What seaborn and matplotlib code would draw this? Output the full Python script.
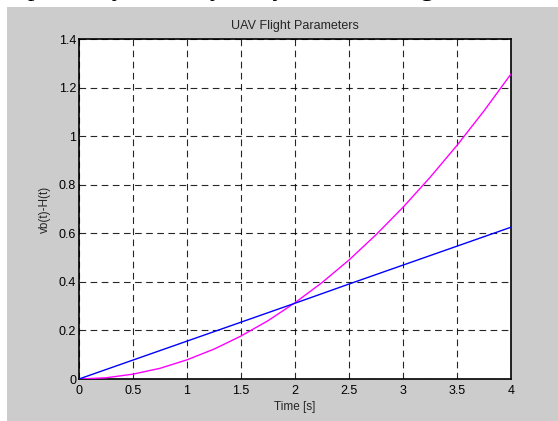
import matplotlib
matplotlib.use("Agg")
import matplotlib.pyplot as plt
import seaborn as sns
import pandas as pd
from matplotlib.patches import Rectangle

# Data
t_quad = [0, 0.25, 0.5, 0.75, 1.0, 1.25, 1.5, 1.75, 2.0, 2.25, 2.5, 2.75, 3.0, 3.25, 3.5, 3.75, 4.0]
h_quad = [0, 0.005, 0.02, 0.044, 0.079, 0.123, 0.177, 0.24, 0.314, 0.397, 0.49, 0.594, 0.707, 0.83, 0.962, 1.104, 1.256]
t_lin = [0, 0.5, 1.0, 1.5, 2.0, 2.5, 3.0, 3.5, 4.0]
v_lin = [0, 0.078, 0.156, 0.234, 0.312, 0.391, 0.469, 0.547, 0.625]
x_ticks = [0, 0.5, 1, 1.5, 2, 2.5, 3, 3.5, 4]
x_ticklabels = ["0", "0.5", "1", "1.5", "2", "2.5", "3", "3.5", "4"]
y_ticks = [0, 0.2, 0.4, 0.6, 0.8, 1.0, 1.2, 1.4]
y_ticklabels = ["0", "0.2", "0.4", "0.6", "0.8", "1", "1.2", "1.4"]

sns.set_style("white")
plt.rcParams['font.family'] = ['Liberation Sans', 'DejaVu Sans']

W, H = 558, 421
fig = plt.figure(figsize=(W / 100, H / 100), dpi=100, facecolor="white")
fig.patches.append(Rectangle((7 / W, 0), 1 - 7 / W, 1 - 7 / H, transform=fig.transFigure,
                             facecolor="#cccccc", edgecolor="none", zorder=-5))
# cropped document text above the figure (only its lower part is visible)
fig.text(-0.005, 1 + 4 / H, "respectively as always may be seen in figure.", family="Liberation Serif",
         fontsize=19, va="baseline", ha="left", color="black", zorder=-4)

ax = fig.add_axes([79 / W, 1 - 379 / H, (511 - 79) / W, (379 - 39) / H])
ax.set_zorder(2)
ax.set_facecolor("white")

df_q = pd.DataFrame({"t": t_quad, "y": h_quad})
df_l = pd.DataFrame({"t": t_lin, "y": v_lin})
sns.lineplot(data=df_q, x="t", y="y", ax=ax, color="#ff00ff", linewidth=1.0, zorder=3)
sns.lineplot(data=df_l, x="t", y="y", ax=ax, color="#0000ff", linewidth=1.0, zorder=3)

ax.set_xlim(0, 4)
ax.set_ylim(0, 1.4)
ax.set_xticks(x_ticks)
ax.set_xticklabels(x_ticklabels)
ax.set_yticks(y_ticks)
ax.set_yticklabels(y_ticklabels)
ax.tick_params(direction="in", length=4, width=0.8, labelsize=9, colors="black")
ax.tick_params(axis="x", pad=4)
ax.tick_params(axis="y", pad=2)
ax.grid(True, color="black", linestyle=(0, (6, 4)), linewidth=0.8, alpha=0.85)
for s in ax.spines.values():
    s.set_color("black")
    s.set_linewidth(1.2)
ax.set_xlabel("Time [s]", fontsize=8.5, labelpad=3)
ax.set_ylabel("vb(t)-H(t)", fontsize=8.5, labelpad=6)
ax.set_title("UAV Flight Parameters", fontsize=9, pad=7)

fig.savefig("out.png", dpi=100, facecolor=fig.get_facecolor())
